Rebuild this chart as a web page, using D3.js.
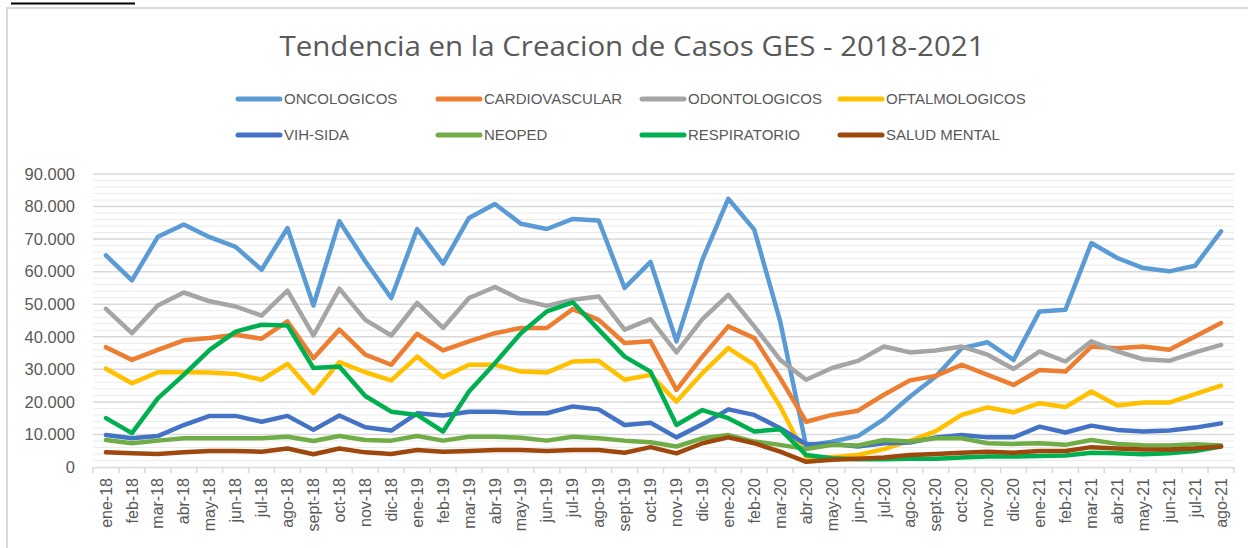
<!DOCTYPE html>
<html>
<head>
<meta charset="utf-8">
<script src="https://cdn.jsdelivr.net/npm/d3@7"></script>
<style>
  body { margin: 0; background: #fff; }
  svg { display: block; font-family: "Liberation Sans", Arial, sans-serif; }
</style>
</head>
<body>
<div class="chart"></div>
<script>
// months (category axis)
const months = ["ene-18","feb-18","mar-18","abr-18","may-18","jun-18","jul-18","ago-18","sept-18","oct-18","nov-18","dic-18",
  "ene-19","feb-19","mar-19","abr-19","may-19","jun-19","jul-19","ago-19","sept-19","oct-19","nov-19","dic-19",
  "ene-20","feb-20","mar-20","abr-20","may-20","jun-20","jul-20","ago-20","sept-20","oct-20","nov-20","dic-20",
  "ene-21","feb-21","mar-21","abr-21","may-21","jun-21","jul-21","ago-21"];

const oncologicos = [65000,57300,70700,74500,70600,67600,60600,73400,49600,75500,63200,51900,
  73100,62500,76500,80800,74700,73100,76200,75700,55000,63000,38600,63700,
  82400,72900,44700,6500,7800,9500,14700,21600,27800,36500,38300,32900,
  47800,48300,68800,64200,61100,60100,61800,72400];
const cardiovascular = [36800,32900,36000,38900,39600,40600,39400,44700,33400,42200,34500,31400,
  40900,35800,38600,41100,42700,42700,48500,45200,38100,38600,23700,33900,
  43200,39600,27300,13900,16000,17300,22200,26600,28000,31400,28300,25200,
  29800,29300,37000,36500,37000,36000,40100,44200];
const odontologicos = [48600,41100,49600,53600,50900,49300,46500,54200,40400,54800,45200,40400,
  50400,42700,51900,55300,51400,49500,51400,52400,42200,45400,35200,45400,
  52900,43200,32900,26800,30400,32600,37000,35200,35800,37000,34500,30100,
  35500,32400,38600,35500,33100,32600,35200,37500];
const oftalmologicos = [30200,25700,29100,29100,29000,28600,26800,31700,22700,32200,29100,26600,
  33900,27600,31400,31400,29300,29000,32400,32600,26800,28300,20100,28800,
  36500,31400,18600,3000,3000,3700,5500,8000,11000,16000,18300,16800,
  19600,18400,23200,18900,19800,19800,22400,25000];
const vihSida = [9800,8800,9500,12900,15700,15700,13900,15700,11400,15800,12200,11200,
  16500,15800,17000,17000,16500,16500,18600,17700,12900,13600,9100,13100,
  17700,16000,11900,7000,7100,6300,7300,7500,9100,9800,9100,9100,
  12400,10600,12700,11400,10900,11200,12100,13400];
const neoped = [8300,7300,8100,8800,8800,8800,8800,9300,8000,9500,8300,8100,
  9500,8100,9300,9300,9000,8100,9300,8800,8100,7600,6300,8800,
  9800,7800,6800,5500,6800,6600,8300,7800,8800,8800,7300,7100,
  7300,6800,8300,7100,6700,6600,7000,6600];
const respiratorio = [15000,10400,21100,28300,36000,41600,43700,43500,30400,30900,21800,17000,
  16000,10900,23200,31900,41100,47800,50600,42200,33900,29300,12900,17500,
  15000,10900,11600,3700,2700,2400,2400,2500,2500,2900,3200,3200,
  3400,3500,4400,4200,3900,4200,4900,6300];
const saludMental = [4500,4200,4000,4500,4900,4900,4700,5700,3900,5700,4500,4000,
  5200,4700,4900,5200,5200,4900,5200,5200,4400,6100,4200,7300,
  9100,7300,4700,1600,2200,2500,2900,3700,4000,4400,4700,4400,
  4900,4900,6100,5700,5400,5400,5700,6300];

const seriesNames = ["ONCOLOGICOS","CARDIOVASCULAR","ODONTOLOGICOS","OFTALMOLOGICOS","VIH-SIDA","NEOPED","RESPIRATORIO","SALUD MENTAL"];
const seriesColors = ["#5b9bd5","#ed7d31","#a5a5a5","#ffc000","#4472c4","#70ad47","#00b050","#9e480e"];
const yTicks = [0,10000,20000,30000,40000,50000,60000,70000,80000,90000];

const series = [oncologicos, cardiovascular, odontologicos, oftalmologicos, vihSida, neoped, respiratorio, saludMental]
  .map((values, i) => ({name: seriesNames[i], color: seriesColors[i], values: values}));

const width = 1248, height = 548;
const svg = d3.select('.chart').append('svg')
  .attr('width', width)
  .attr('height', height);

svg.append('rect').attr('width', width).attr('height', height).attr('fill', '#fff');

// small black rule in the corner + chart border
svg.append('line').attr('x1', 11).attr('x2', 135).attr('y1', 3.5).attr('y2', 3.5)
  .attr('stroke', '#000').attr('stroke-width', 2);
svg.append('path').attr('d', `M7,${height} V8 H${width}`)
  .attr('fill', 'none').attr('stroke', '#d9d9d9').attr('stroke-width', 2);

const x = d3.scaleBand().domain(months).range([93, 1234]);
const y = d3.scaleLinear().domain([0, 90000]).range([467, 174]);
const cx = d => x(d) + x.bandwidth() / 2;

const locale = d3.formatLocale({decimal: ",", thousands: ".", grouping: [3], currency: ["$", ""]});
const fmt = locale.format(",d");

// minor gridlines
svg.append('g')
  .selectAll('line')
  .data(d3.range(2000, 90000, 2000).filter(v => v % 10000 !== 0))
  .enter().append('line')
  .attr('x1', 93).attr('x2', 1234)
  .attr('y1', d => y(d)).attr('y2', d => y(d))
  .attr('stroke', '#ebebeb').attr('stroke-width', 1);

// major gridlines
svg.append('g')
  .selectAll('line')
  .data(yTicks.slice(1))
  .enter().append('line')
  .attr('x1', 93).attr('x2', 1234)
  .attr('y1', d => y(d)).attr('y2', d => y(d))
  .attr('stroke', '#d9d9d9').attr('stroke-width', 1.5);

// y axis labels
const yAxis = svg.append('g')
  .attr('transform', 'translate(93,0)')
  .call(d3.axisLeft(y).tickValues(yTicks).tickFormat(fmt).tickSize(0).tickPadding(18));
yAxis.select('.domain').remove();
yAxis.selectAll('text')
  .attr('font-size', '16.5px')
  .attr('font-family', '"Liberation Sans", Arial, sans-serif')
  .attr('fill', '#595959');

// x axis
const xAxis = svg.append('g')
  .attr('transform', 'translate(0,467)')
  .call(d3.axisBottom(x).tickSize(0).tickPadding(0));
xAxis.select('.domain').attr('stroke', '#d9d9d9').attr('stroke-width', 1.5);
xAxis.selectAll('.tick').each(function(d, i) {
  d3.select(this).select('line').remove();
});
xAxis.selectAll('text')
  .attr('font-size', '16px')
  .attr('font-family', '"Liberation Sans", Arial, sans-serif')
  .attr('fill', '#595959')
  .attr('text-anchor', 'end')
  .attr('transform', 'translate(0,11) rotate(-90)')
  .attr('dy', '0.35em')
  .attr('y', 0)
  .attr('x', 0);

// category boundary ticks
svg.append('g')
  .selectAll('line')
  .data(months.concat(['end']))
  .enter().append('line')
  .attr('x1', (d, i) => i < months.length ? x(d) : x(months[months.length - 1]) + x.bandwidth())
  .attr('x2', (d, i) => i < months.length ? x(d) : x(months[months.length - 1]) + x.bandwidth())
  .attr('y1', 467).attr('y2', 473)
  .attr('stroke', '#d9d9d9').attr('stroke-width', 1.5);

// lines
const line = d3.line()
  .x((d, i) => cx(months[i]))
  .y(d => y(d));

svg.append('g')
  .selectAll('path')
  .data(series)
  .enter().append('path')
  .attr('d', d => line(d.values))
  .attr('fill', 'none')
  .attr('stroke', d => d.color)
  .attr('stroke-width', 4.5)
  .attr('stroke-linejoin', 'round')
  .attr('stroke-linecap', 'round');

// title
svg.append('text')
  .attr('x', 632).attr('y', 56)
  .attr('text-anchor', 'middle')
  .attr('font-family', '"Open Sans", "Liberation Sans", sans-serif')
  .attr('font-size', '27px')
  .attr('fill', '#595959')
  .attr('textLength', 705)
  .attr('lengthAdjust', 'spacingAndGlyphs')
  .text('Tendencia en la Creacion de Casos GES - 2018-2021');

// legend
const legendX = [236, 436, 640, 838];
const legendY = [99, 135];
const legend = svg.append('g')
  .selectAll('g')
  .data(series)
  .enter().append('g')
  .attr('transform', (d, i) => `translate(${legendX[i % 4]},${legendY[Math.floor(i / 4)]})`);
legend.append('line')
  .attr('x1', 2).attr('x2', 44).attr('y1', 0).attr('y2', 0)
  .attr('stroke', d => d.color).attr('stroke-width', 5).attr('stroke-linecap', 'round');
legend.append('text')
  .attr('x', 48).attr('y', 0).attr('dy', '0.36em')
  .attr('font-size', '15px')
  .attr('fill', '#595959')
  .text(d => d.name);
</script>
</body>
</html>
